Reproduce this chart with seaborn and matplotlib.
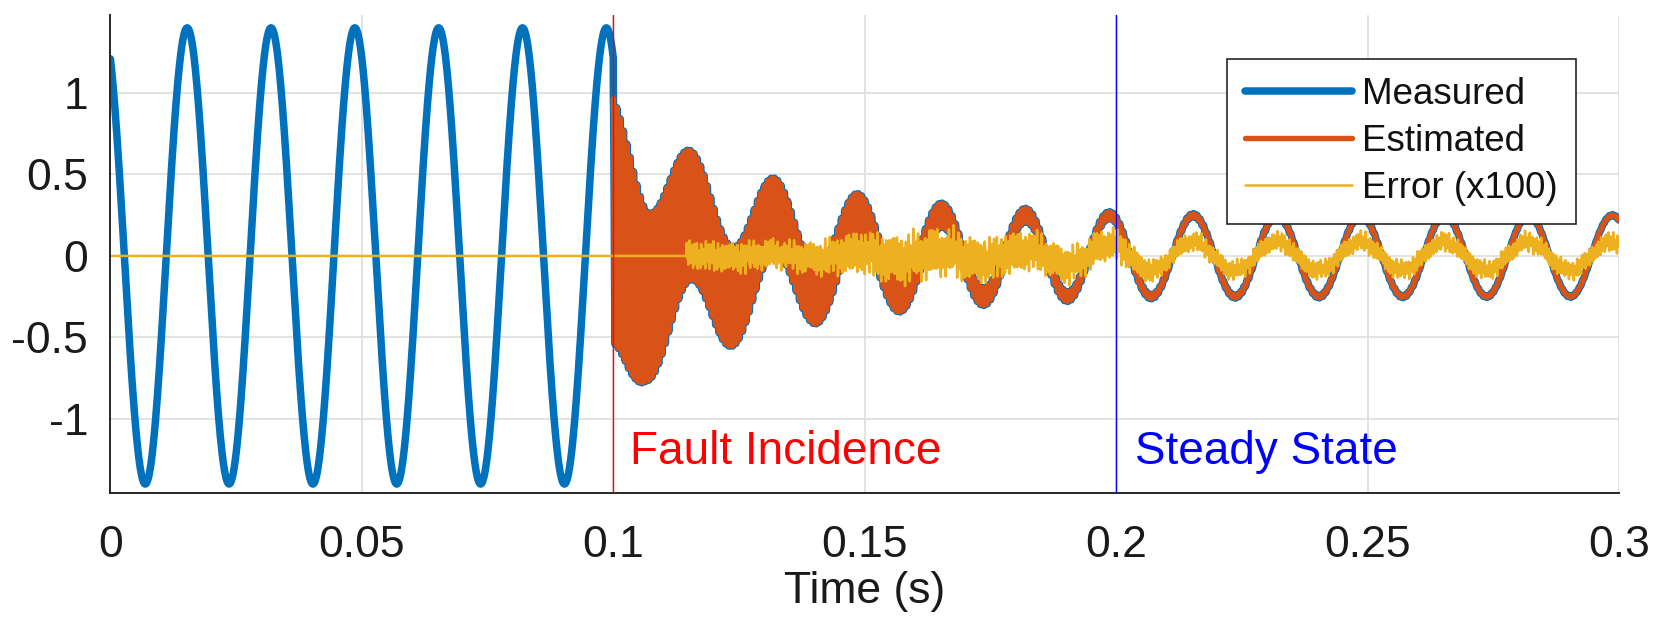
import numpy as np
import matplotlib
matplotlib.use("Agg")
import matplotlib.pyplot as plt
import seaborn as sns

# ---------------- data ----------------
SIGNAL_FREQ_HZ = 60.0          # fundamental frequency
PEAK_TIME = 0.0986             # time of a fundamental peak (s)
PREFAULT_AMP = 1.40            # measured amplitude before the fault
POSTFAULT_AMP = 0.25           # fundamental amplitude after the fault
FAULT_TIME = 0.100
STEADY_TIME = 0.200

# decaying high-frequency transient envelope after the fault
HF_FREQ_HZ = 1500.0
HF_TIMES = [0.100, 0.1033, 0.1065, 0.115, 0.123, 0.131, 0.1395, 0.148,
            0.1565, 0.165, 0.173, 0.182, 0.190, 0.198, 0.210, 0.300]
HF_AMPS = [0.75, 0.66, 0.52, 0.40, 0.31, 0.235, 0.17, 0.135,
           0.095, 0.075, 0.055, 0.042, 0.030, 0.022, 0.010, 0.003]

# error (x100) envelope: outer extent of the noise band and slow component
ERR_START = 0.1145
ERR_NOISE_T = [0.1145, 0.125, 0.135, 0.145, 0.155, 0.170, 0.185, 0.200, 0.210, 0.300]
ERR_NOISE_A = [0.11, 0.12, 0.11, 0.15, 0.19, 0.18, 0.15, 0.12, 0.075, 0.075]
ERR_FUND_T = [0.1145, 0.180, 0.205, 0.300]
ERR_FUND_A = [0.0, 0.02, 0.085, 0.085]

X_TICKS = [0, 0.05, 0.1, 0.15, 0.2, 0.25, 0.3]
X_TICK_LABELS = ["0", "0.05", "0.1", "0.15", "0.2", "0.25", "0.3"]
Y_TICKS = [-1, -0.5, 0, 0.5, 1]
Y_TICK_LABELS = ["-1", "-0.5", "0", "0.5", "1"]
LEGEND_LABELS = ["Measured", "Estimated", "Error (x100)"]
ANNOTATIONS = ["Fault Incidence", "Steady State"]

# ---------------- build waveforms ----------------
fs = 30000.0
t = np.arange(0, 0.3 + 0.5 / fs, 1 / fs)
theta = 2 * np.pi * SIGNAL_FREQ_HZ * (t - PEAK_TIME)
hf_env = np.interp(t, HF_TIMES, HF_AMPS)
post = POSTFAULT_AMP * np.cos(theta) + hf_env * np.cos(2 * np.pi * HF_FREQ_HZ * (t - FAULT_TIME))
measured = np.where(t < FAULT_TIME, PREFAULT_AMP * np.cos(theta), post)

# deterministic noise-like shape, scaled to [-1, 1]
s = (np.sin(2 * np.pi * 2113 * t) + 0.85 * np.sin(2 * np.pi * 3371 * t + 1.0)
     + 0.5 * np.sin(2 * np.pi * 5237 * t + 2.0) + 0.35 * np.sin(2 * np.pi * 7411 * t + 0.3)
     + 0.3 * np.sin(2 * np.pi * 977 * t + 2.4))
s = s / np.abs(s).max()
err = (np.interp(t, ERR_FUND_T, ERR_FUND_A) * np.cos(theta)
       + np.interp(t, ERR_NOISE_T, ERR_NOISE_A) * s)
err = np.where(t < ERR_START, 0.0, err)
estimated = np.where(t < FAULT_TIME, np.nan, measured - err / 100.0)

# ---------------- plot ----------------
sns.set_style("white")
plt.rcParams["font.family"] = ["Liberation Sans", "DejaVu Sans"]
plt.rcParams["axes.unicode_minus"] = False

fig = plt.figure(figsize=(16.65, 6.35), dpi=100)
ax = fig.add_axes([0.06631, 0.22362, 0.9063, 0.7531])

sns.lineplot(x=t, y=measured, ax=ax, color="#0072BD", linewidth=5.4,
             label=LEGEND_LABELS[0], estimator=None, sort=False)
sns.lineplot(x=t, y=estimated, ax=ax, color="#D95319", linewidth=3.9,
             label=LEGEND_LABELS[1], estimator=None, sort=False)
sns.lineplot(x=t, y=err, ax=ax, color="#EDB120", linewidth=1.8,
             label=LEGEND_LABELS[2], estimator=None, sort=False)

ax.axvline(FAULT_TIME, color="#FF0000", linewidth=1.0, zorder=5)
ax.axvline(STEADY_TIME, color="#0000FF", linewidth=1.0, zorder=5)
ax.text(0.1033, -1.28, ANNOTATIONS[0], color="#FF0000", fontsize=33,
        va="baseline", ha="left", zorder=6)
ax.text(0.2037, -1.28, ANNOTATIONS[1], color="#0000FF", fontsize=33,
        va="baseline", ha="left", zorder=6)

ax.set_xlim(0, 0.3)
ax.set_ylim(-1.455, 1.48)
ax.set_xticks(X_TICKS)
ax.set_xticklabels(X_TICK_LABELS)
ax.set_yticks(Y_TICKS)
ax.set_yticklabels(Y_TICK_LABELS)
ax.grid(True, color="#E0E0E0", linewidth=1.3)
ax.set_axisbelow(True)
for side in ["top", "right"]:
    ax.spines[side].set_visible(False)
for side in ["left", "bottom"]:
    ax.spines[side].set_color("#262626")
    ax.spines[side].set_linewidth(1.4)
ax.tick_params(axis="both", direction="in", length=11, width=1.3,
               color="#262626", labelsize=32, labelcolor="#1a1a1a")
ax.tick_params(axis="x", pad=23)
ax.tick_params(axis="y", pad=16)
ax.set_xlabel("Time (s)", fontsize=32, color="#1a1a1a")
ax.xaxis.set_label_coords(0.5, -0.163)
ax.set_ylabel("")

leg = ax.legend(loc="upper right", bbox_to_anchor=(0.9713, 0.9076),
                borderaxespad=0, fontsize=26.5, frameon=True, fancybox=False,
                framealpha=1, edgecolor="#262626", handlelength=2.9,
                handletextpad=0.27, labelspacing=0.32, borderpad=0.5)
leg.get_frame().set_linewidth(1.2)
for txt in leg.get_texts():
    txt.set_color("#111111")

fig.savefig("out.png", dpi=100)
